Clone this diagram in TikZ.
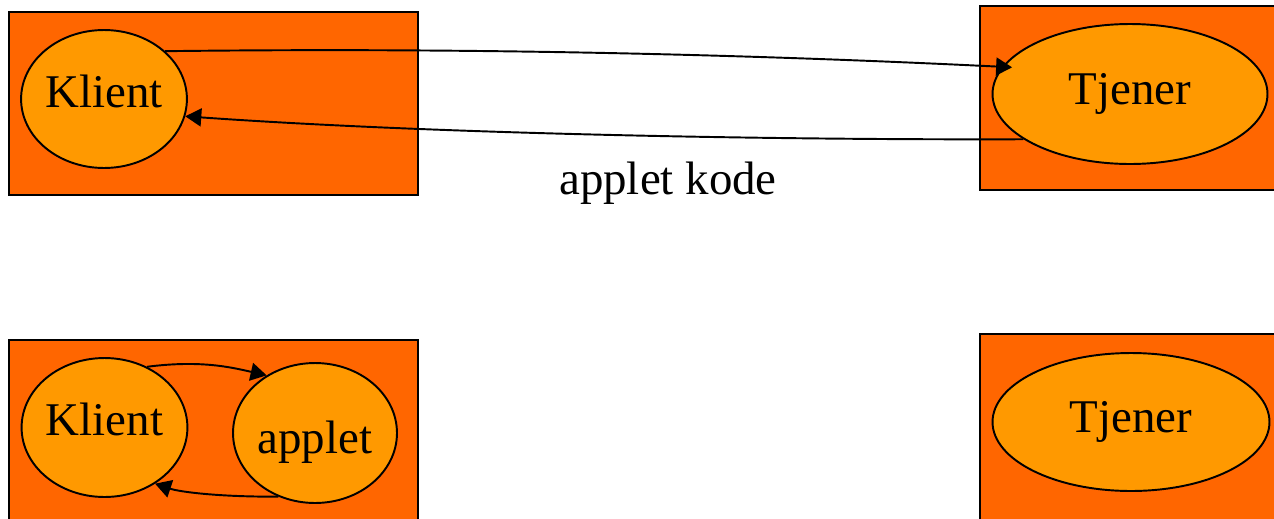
\documentclass[tikz,border=0pt]{standalone}
\usepackage{fontspec}
\setmainfont{Liberation Serif}
\usetikzlibrary{arrows.meta,shapes.geometric}
\definecolor{maskinfarge}{HTML}{FF6600}
\definecolor{prosessfarge}{HTML}{FF9900}

\begin{document}
\begin{tikzpicture}[x=0.02cm, y=-0.02cm, >={Triangle[length=0.32cm,width=0.36cm]},
    maskin/.style={draw, line width=1pt, fill=maskinfarge},
    prosess/.style={ellipse, draw, line width=1.1pt, fill=prosessfarge, inner sep=0pt,
      font=\fontsize{26.7}{32}\selectfont},
    kall/.style={->, line width=1.1pt}]
    \useasboundingbox (0,0) rectangle (1274,518);
    \clip (0,0) rectangle (1274,518);
    % maskinene
    \draw[maskin] (9,12) rectangle (418,195);
    \draw[maskin] (980,6) rectangle (1300,190);
    \draw[maskin] (9,340) rectangle (418,560);
    \draw[maskin] (980,334) rectangle (1300,560);
    % foer nedlasting
    \node[prosess, text depth=9pt, minimum width=3.24cm, minimum height=2.76cm] (K1) at (104,99) {Klient};
    \node[prosess, minimum width=5.5cm, minimum height=2.8cm] (T1) at (1130,94) {Tjener};
    \draw[kall, shorten >=-0.2cm] (K1.38) .. controls (420,48) and (700,52) .. (T1.168);
    \draw[kall] (T1.203) .. controls (800,140) and (450,135) .. (K1.-12);
    \node[font=\fontsize{26.7}{32}\selectfont] (kode) at (668,183) {applet kode};
    % etter nedlasting
    \node[prosess, text depth=9pt, minimum width=3.26cm, minimum height=2.78cm] (K2) at (104.5,427.5) {Klient};
    \node[prosess, text height=29.5pt, minimum width=3.28cm, minimum height=2.8cm] (A2) at (315,433) {applet};
    \node[prosess, minimum width=5.54cm, minimum height=2.76cm] (T2) at (1131,422) {Tjener};
    \draw[kall] (K2.55) .. controls (200,360) and (230,367) .. (A2.130);
    \draw[kall] (A2.240) .. controls (220,497) and (180,492) .. (K2.-48);
\end{tikzpicture}
\end{document}
